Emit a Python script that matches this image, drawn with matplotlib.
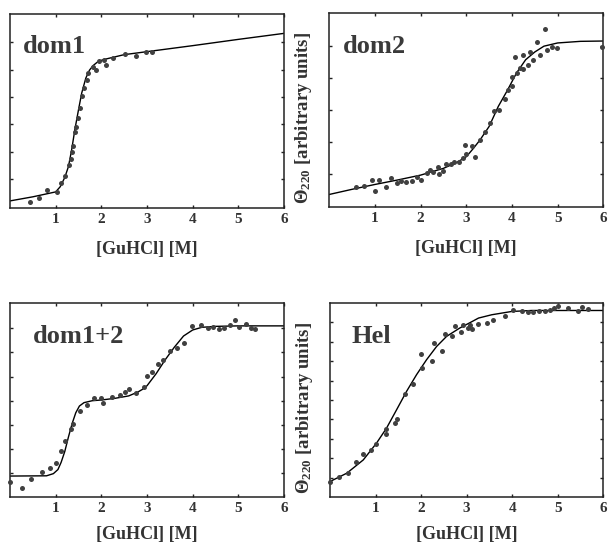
import numpy as np
import matplotlib
matplotlib.use("Agg")
import matplotlib.pyplot as plt

plt.rcParams['font.family'] = ['Liberation Serif', 'DejaVu Serif']
plt.rcParams['font.weight'] = 'bold'
plt.rcParams['mathtext.fontset'] = 'custom'
plt.rcParams['mathtext.rm'] = 'Liberation Serif'
plt.rcParams['mathtext.it'] = 'Liberation Serif:italic'
plt.rcParams['mathtext.bf'] = 'Liberation Serif:bold'

# ---------------- data ----------------
x_ticks = [1, 2, 3, 4, 5, 6]
x_label = "[GuHCl] [M]"
y_label = r"$\Theta_{220}$ [arbitrary units]"

# dom1
dom1_x = [0.44, 0.64, 0.82, 1.02, 1.11, 1.20, 1.29, 1.34, 1.36, 1.39, 1.43, 1.45, 1.49, 1.53,
          1.58, 1.63, 1.68, 1.71, 1.81, 1.89, 1.94, 2.05, 2.10, 2.26, 2.51, 2.75, 2.98, 3.10]
dom1_y = [0.21, 0.35, 0.66, 0.59, 0.93, 1.16, 1.56, 1.80, 2.05, 2.26, 2.77, 2.96, 3.30, 3.68,
          4.10, 4.40, 4.70, 4.94, 5.18, 5.06, 5.38, 5.43, 5.23, 5.49, 5.63, 5.57, 5.72, 5.72]
dom1_fit_x = [0, 0.5, 1.0, 1.1, 1.2, 1.28, 1.35, 1.42, 1.5, 1.57, 1.66, 1.74, 1.82, 1.93,
              2.05, 2.2, 2.5, 3.0, 4.0, 5.0, 6.0]
dom1_fit_y = [0.26, 0.41, 0.59, 0.78, 1.12, 1.52, 2.13, 2.87, 3.60, 4.21, 4.76, 5.05, 5.22, 5.37,
              5.44, 5.50, 5.62, 5.73, 5.95, 6.18, 6.40]

# dom2
dom2_x = [0.58, 0.76, 0.93, 1.00, 1.09, 1.25, 1.35, 1.49, 1.58, 1.69, 1.81, 1.92, 2.00, 2.13,
          2.20, 2.27, 2.37, 2.40, 2.49, 2.56, 2.67, 2.73, 2.84, 2.93, 2.98, 3.00, 3.13, 3.18,
          3.29, 3.40, 3.51, 3.61, 3.71, 3.85, 3.91, 3.99, 4.00, 4.06, 4.11, 4.17, 4.24, 4.25,
          4.35, 4.40, 4.47, 4.55, 4.62, 4.73, 4.76, 4.87, 4.98, 5.97]
dom2_y = [0.62, 0.65, 0.82, 0.50, 0.82, 0.61, 0.88, 0.74, 0.81, 0.78, 0.80, 0.93, 0.82, 1.04,
          1.14, 1.07, 1.24, 1.02, 1.12, 1.31, 1.33, 1.38, 1.40, 1.50, 1.92, 1.64, 1.87, 1.55,
          2.07, 2.33, 2.61, 2.98, 3.01, 3.34, 3.61, 3.73, 4.01, 4.63, 4.15, 4.30, 4.72, 4.27,
          4.40, 4.79, 4.56, 5.10, 4.72, 5.51, 4.87, 4.95, 4.92, 4.97]
dom2_fit_x = [0, 0.5, 1.0, 1.5, 2.0, 2.5, 2.8, 3.0, 3.15, 3.3, 3.5, 3.7, 3.9, 4.1, 4.3, 4.5,
              4.7, 5.0, 5.5, 6.0]
dom2_fit_y = [0.38, 0.54, 0.69, 0.83, 0.98, 1.19, 1.38, 1.55, 1.80, 2.07, 2.49, 3.11, 3.61,
              4.15, 4.56, 4.80, 4.98, 5.08, 5.13, 5.14]

# dom1+2
d12_x = [0.00, 0.26, 0.47, 0.69, 0.88, 1.01, 1.12, 1.20, 1.33, 1.37, 1.54, 1.69, 1.84, 1.99,
         2.03, 2.23, 2.41, 2.52, 2.61, 2.77, 2.93, 2.99, 3.12, 3.23, 3.34, 3.50, 3.65, 3.80,
         3.99, 4.18, 4.34, 4.45, 4.58, 4.69, 4.82, 4.93, 5.02, 5.17, 5.27, 5.36]
d12_y = [0.65, 0.40, 0.76, 1.06, 1.23, 1.43, 1.93, 2.33, 2.83, 3.03, 3.57, 3.83, 4.12, 4.11,
         3.89, 4.14, 4.23, 4.37, 4.47, 4.33, 4.58, 5.02, 5.20, 5.52, 5.68, 6.07, 6.17, 6.41,
         7.10, 7.13, 7.02, 7.06, 6.99, 7.02, 7.13, 7.35, 7.06, 7.19, 7.03, 6.98]
d12_fit_x = [0, 0.8, 0.95, 1.05, 1.12, 1.2, 1.28, 1.36, 1.44, 1.52, 1.62, 1.8, 2.0, 2.3, 2.6,
             2.8, 2.9, 3.0, 3.2, 3.4, 3.6, 3.8, 4.0, 4.2, 4.5, 5.0, 6.0]
d12_fit_y = [0.88, 0.89, 0.98, 1.15, 1.45, 1.90, 2.50, 3.05, 3.50, 3.78, 3.92, 4.00, 4.03,
             4.10, 4.20, 4.36, 4.47, 4.62, 5.12, 5.70, 6.22, 6.68, 6.93, 7.04, 7.08, 7.10, 7.10]

# Hel
hel_x = [0.00, 0.20, 0.40, 0.57, 0.73, 0.89, 1.01, 1.24, 1.24, 1.43, 1.46, 1.65, 1.83, 1.99,
         2.01, 2.23, 2.28, 2.45, 2.52, 2.67, 2.74, 2.87, 2.93, 3.04, 3.07, 3.11, 3.26, 3.44,
         3.58, 3.84, 4.02, 4.21, 4.35, 4.46, 4.59, 4.72, 4.83, 4.92, 5.01, 5.22, 5.44, 5.54, 5.67]
hel_y = [0.81, 1.06, 1.23, 1.80, 2.21, 2.44, 2.73, 3.52, 3.24, 3.84, 4.03, 5.30, 5.81, 7.36,
         6.64, 7.02, 7.92, 7.50, 8.39, 8.30, 8.78, 8.52, 8.87, 8.70, 8.87, 8.64, 8.90, 8.95,
         9.09, 9.33, 9.64, 9.55, 9.52, 9.52, 9.55, 9.59, 9.64, 9.73, 9.81, 9.73, 9.59, 9.78, 9.69]
hel_fit_x = [0, 0.37, 0.73, 1.02, 1.24, 1.46, 1.68, 1.90, 2.12, 2.34, 2.56, 2.85, 3.07, 3.26,
             3.55, 3.99, 4.43, 4.94, 6.0]
hel_fit_y = [0.81, 1.24, 1.92, 2.78, 3.55, 4.49, 5.44, 6.30, 7.07, 7.75, 8.27, 8.70, 8.97,
             9.21, 9.38, 9.55, 9.60, 9.60, 9.60]

# ---------------- figure ----------------
W, H = 609, 545
fig = plt.figure(figsize=(W / 100, H / 100), dpi=100)

def rect(l, r, t, b):
    return [l / W, 1 - b / H, (r - l) / W, (b - t) / H]

panels = [
    dict(r=rect(10, 284, 14, 208), x=dom1_x, y=dom1_y, fx=dom1_fit_x, fy=dom1_fit_y,
         ylim=(0, 7.11), yt=np.arange(1, 7) + 0.07, name="dom1", tx=0.047, ty=0.80,
         ylab=False, xpad=11),
    dict(r=rect(329.3, 603.3, 13.3, 206.7), x=dom2_x, y=dom2_y, fx=dom2_fit_x, fy=dom2_fit_y,
         ylim=(0, 6.0), yt=np.arange(1, 6), name="dom2", tx=0.05, ty=0.795,
         ylab=True, xpad=11),
    dict(r=rect(10, 284, 302.7, 497.3), x=d12_x, y=d12_y, fx=d12_fit_x, fy=d12_fit_y,
         ylim=(0, 8.06), yt=np.arange(1, 8), name="dom1+2", tx=0.084, ty=0.793,
         ylab=False, xpad=7.5),
    dict(r=rect(330, 603.3, 302.7, 497.3), x=hel_x, y=hel_y, fx=hel_fit_x, fy=hel_fit_y,
         ylim=(0, 10.0), yt=np.arange(1, 10), name="Hel", tx=0.08, ty=0.793,
         ylab=True, xpad=7.5),
]

for p in panels:
    ax = fig.add_axes(p['r'])
    ax.plot(p['fx'], p['fy'], color='black', lw=1.0, zorder=2)
    ax.plot(p['x'], p['y'], 'o', color='#404040', ms=3.6, mew=0, zorder=3, clip_on=False)
    ax.set_xlim(0, 6)
    ax.set_ylim(*p['ylim'])
    ax.set_xticks(x_ticks)
    ax.set_xticklabels([str(t) for t in x_ticks], fontsize=11, fontweight='bold', color='#333333')
    ax.set_yticks(p['yt'])
    ax.set_yticklabels([])
    ax.tick_params(direction='in', top=True, right=True, length=2.5, width=1.0,
                   color='#222222', pad=3.5)
    for s in ax.spines.values():
        s.set_linewidth(1.1)
        s.set_color('#222222')
    ax.set_xlabel(x_label, fontsize=13, fontweight='bold', color='#333333', labelpad=p['xpad'])
    if p['ylab']:
        ax.set_ylabel(y_label, fontsize=13.5, fontweight='bold', color='#333333')
        ax.yaxis.set_label_coords(-0.056, 0.46)
    ax.text(p['tx'], p['ty'], p['name'], transform=ax.transAxes, fontsize=19,
            fontweight='bold', color='#3a3a3a', va='baseline', ha='left')

fig.savefig("out.png", dpi=100)
